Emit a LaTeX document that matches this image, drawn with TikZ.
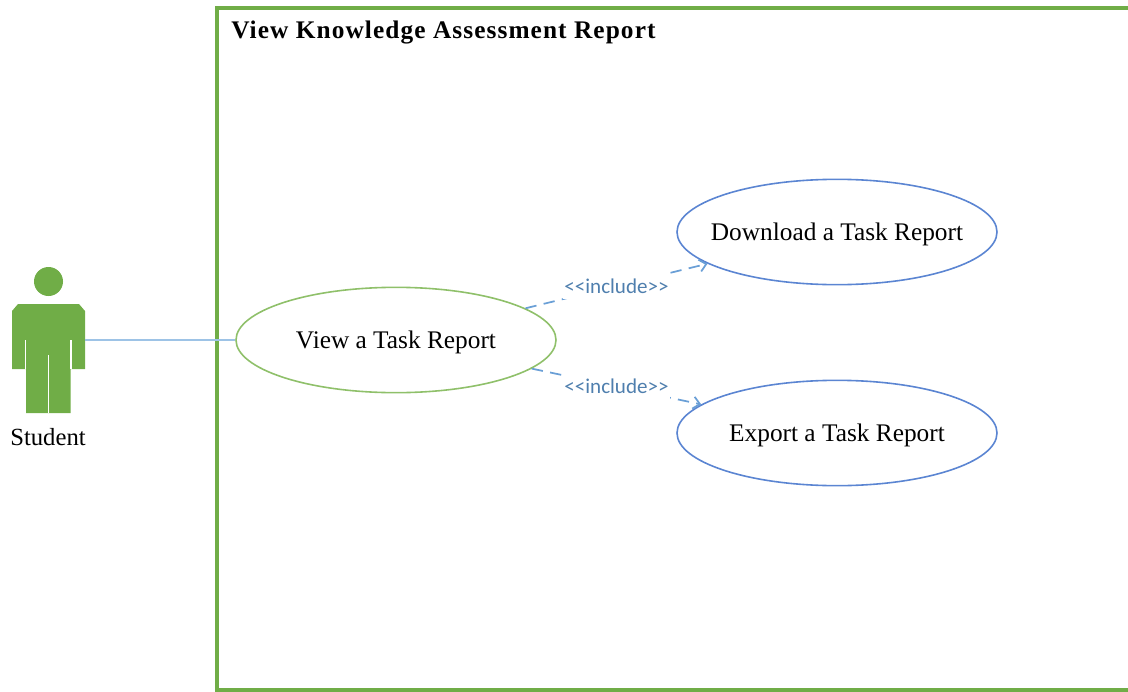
\documentclass[tikz,border=0pt]{standalone}
\usepackage{fontspec}
\setmainfont{Liberation Serif}
\newfontfamily\labelfont{Carlito}
\definecolor{framegreen}{HTML}{70AD47}
\definecolor{viewgreen}{HTML}{8FC06A}
\definecolor{caseblue}{HTML}{5B85D2}
\definecolor{linkblue}{HTML}{6A9FD6}
\definecolor{wireblue}{HTML}{9DC3E6}
\definecolor{textblue}{HTML}{4F7FAE}
\usetikzlibrary{shapes.geometric,arrows.meta}
\tikzset{
  usecase/.style={ellipse,draw=caseblue,line width=1.2pt,minimum width=240pt,minimum height=79pt,inner xsep=-30pt,inner ysep=-10pt,text height=12pt,text depth=0pt,font=\fontsize{19}{21}\selectfont},
  includelink/.style={draw=linkblue,line width=1.3pt,dash pattern=on 8.5pt off 5.5pt,-{Straight Barb[length=5pt,width=9pt]}},
  includetext/.style={fill=white,inner xsep=1pt,inner ysep=4pt,text=textblue,font=\labelfont\fontsize{15.8}{18}\selectfont},
}
\begin{document}
\begin{tikzpicture}[x=0.75pt,y=-0.75pt]
\useasboundingbox (0,0) rectangle (1128,692);
\draw[framegreen,line width=2.4pt] (1128,8) -| (217,690) -- (1128,690);
\node[anchor=west,inner sep=0pt,font=\bfseries\addfontfeature{LetterSpace=4.3}\fontsize{19}{21}\selectfont] (title) at (231,33) {View Knowledge Assessment Report};
% student figure
\fill[framegreen] (48.5,281.5) circle (14.5);
\fill[framegreen] (18,304) -- (79,304) -- (85,311) -- (85,369) -- (70.5,369) -- (70.5,413)
  -- (26,413) -- (26,369) -- (12,369) -- (12,311) -- cycle;
\draw[white,line width=0.8pt] (25.5,340) -- (25.5,369);
\draw[white,line width=0.8pt] (71,340) -- (71,369);
\draw[white,line width=0.8pt] (48.5,355) -- (48.5,413);
\node[font=\fontsize{18.5}{20}\selectfont] (student) at (48,437) {Student};
\coordinate (studentarm) at (85,340);
% use cases
\node[usecase,draw=viewgreen] (view) at (396,340) {View a Task Report};
\node[usecase] (download) at (837,232) {Download a Task Report};
\node[usecase] (export) at (837,433) {Export a Task Report};
\draw[wireblue,line width=1.6pt] (studentarm) -- (view);
\draw[includelink] (view) -- node[includetext] {<<include>>} (download);
\draw[includelink] (view) -- node[includetext] {<<include>>} (export);
\end{tikzpicture}
\end{document}
